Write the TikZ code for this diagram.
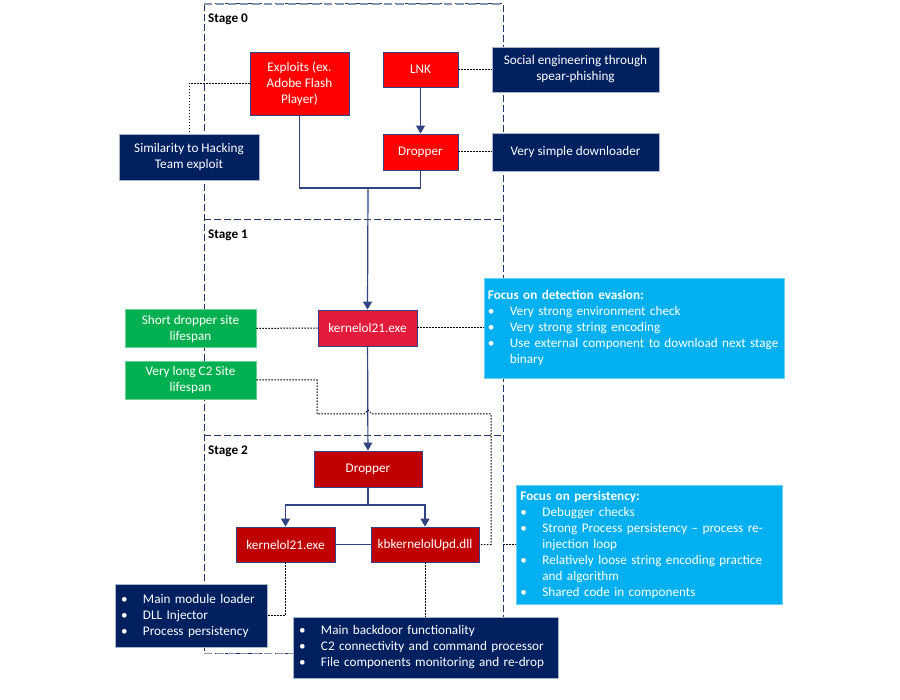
\documentclass[tikz,border=0pt]{standalone}
\usepackage{fontspec}
\setmainfont{Carlito}
\usetikzlibrary{arrows.meta,calc,positioning}
\definecolor{alarmRed}{RGB}{255,0,0}
\definecolor{crimsonRed}{RGB}{226,28,58}
\definecolor{darkRed}{RGB}{192,0,0}
\definecolor{deepNavy}{RGB}{0,32,96}
\definecolor{skyBlue}{RGB}{0,176,240}
\definecolor{leafGreen}{RGB}{0,176,80}
\definecolor{lineBlue}{RGB}{47,68,128}
\definecolor{frameBlue}{RGB}{31,56,100}
\definecolor{frameGray}{RGB}{132,151,176}
\newcommand{\bul}{\makebox[22pt][l]{\textbullet}}
\newcommand{\cont}{\hspace*{22pt}}

\begin{document}
\begin{tikzpicture}[
  x=1pt, y=-1pt,
  every node/.style={font=\fontsize{13.2}{16}\selectfont},
  block/.style={draw=lineBlue, line width=0.8pt, text=white, align=center, inner sep=2pt},
  exploit/.style={block, fill=alarmRed},
  loader/.style={block, fill=crimsonRed},
  implant/.style={block, fill=darkRed},
  remark/.style={block, fill=deepNavy, draw=frameGray!70},
  focus/.style={block, fill=skyBlue, draw=skyBlue!60!white, align=left, inner xsep=4pt, anchor=west},
  site/.style={block, fill=leafGreen, draw=leafGreen!60!white},
  frame/.style={inner sep=0pt, anchor=north west, minimum width=299pt},
  frameline/.style={draw=frameBlue, line width=1pt, dash pattern=on 7pt off 3pt},
  frameedge/.style={draw=frameGray, line width=1.5pt, dash pattern=on 8pt off 4pt},
  stagelabel/.style={font=\fontsize{13.2}{16}\selectfont\bfseries, inner sep=0pt, anchor=base west},
  flow/.style={-{Triangle[length=8pt,width=9pt]}, draw=lineBlue, line width=1.2pt},
  link/.style={draw=lineBlue, line width=1.2pt},
  note/.style={draw=black, line width=1pt, dash pattern=on 1.5pt off 1.5pt}
]
  \fill[white] (0,0) rectangle (900,700);
  \useasboundingbox (0,0) rectangle (900,700);

  % stage frames
  \node[frame, minimum height=216pt] (stage0) at (204,4) {};
  \node[frame, minimum height=216pt] (stage1) at (204,220) {};
  \node[frame, minimum height=217pt] (stage2) at (204,436) {};
  \draw[frameline] (stage0.north west) rectangle (stage2.south east);
  \draw[frameline] (stage1.north west) -- (stage1.north east);
  \draw[frameline] (stage2.north west) -- (stage2.north east);
  \draw[frameedge] (stage0.north west) -- (stage0.north east);
  \draw[frameedge] (stage2.south west) -- (stage2.south east);
  \node[stagelabel] at ([xshift=4pt,yshift=-19pt]stage0.north west) {Stage 0};
  \node[stagelabel] at ([xshift=4pt,yshift=-19pt]stage1.north west) {Stage 1};
  \node[stagelabel] at ([xshift=4pt,yshift=-19pt]stage2.north west) {Stage 2};

  % stage 0
  \node[exploit, minimum width=99pt, minimum height=63pt] (exploits) at (299.5,83.5) {Exploits (ex.\\Adobe Flash\\Player)};
  \node[exploit, minimum width=75pt, minimum height=35pt] (lnk) at (420.5,69.5) {LNK};
  \node[exploit, minimum width=75pt, minimum height=36pt] (dropA) at (420.5,152) {Dropper};
  \node[remark, minimum width=167pt, minimum height=45pt] (social) at (575.5,69.5) {Social engineering through\\spear-phishing};
  \node[remark, minimum width=167pt, minimum height=38pt] (downloader) at (575.5,152) {Very simple downloader};
  \node[remark, minimum width=140pt, minimum height=46pt] (similarity) at (189,157) {Similarity to Hacking\\Team exploit};

  % stage 1
  \node[loader, minimum width=99pt, minimum height=36pt] (kernelA) at (367.5,328) {kernelol21.exe};
  \node[site, minimum width=131pt, minimum height=38pt] (shortsite) at (190.5,328.5) {Short dropper site\\lifespan};
  \node[site, minimum width=131pt, minimum height=38pt] (longc2) at (190.5,380) {Very long C2 Site\\lifespan};
  \node[focus, text width=292pt, minimum height=100pt] (detect) at (483.5,328) {%
    \textbf{Focus on detection evasion:}\\
    \bul Very strong environment check\\
    \bul Very strong string encoding\\
    \bul Use external component to download next stage\\
    \cont binary};

  % stage 2
  \node[implant, minimum width=108pt, minimum height=36pt] (dropB) at (368,469) {Dropper};
  \node[implant, minimum width=99pt, minimum height=35pt] (kernelB) at (285.5,544.5) {kernelol21.exe};
  \node[implant, minimum width=108pt, minimum height=35pt] (kbdll) at (425,544.5) {kbkernelolUpd.dll};
  \node[focus, text width=258pt, minimum height=119pt] (persist) at (516,544.5) {%
    \textbf{Focus on persistency:}\\
    \bul Debugger checks\\
    \bul Strong Process persistency -- process re-\\
    \cont injection loop\\
    \bul Relatively loose string encoding practice\\
    \cont and algorithm\\
    \bul Shared code in components};
  \node[remark, align=left, inner xsep=6pt, text width=140pt, minimum height=63pt] (modloader) at (191,615.5) {%
    \bul Main module loader\\
    \bul DLL Injector\\
    \bul Process persistency};
  \node[remark, align=left, inner xsep=6pt, text width=253pt, minimum height=61pt] (backdoor) at (425.5,647.5) {%
    \bul Main backdoor functionality\\
    \bul C2 connectivity and command processor\\
    \bul File components monitoring and re-drop};

  % main flow
  \coordinate (merge) at (368,188);
  \coordinate (split) at (368,505);
  \draw[flow] (lnk) -- (dropA);
  \draw[link] (exploits.south) |- (merge) -| (dropA.south);
  \draw[flow] (merge) -- (kernelA.north);
  \draw[flow] (kernelA) -- (dropB);
  \draw[link] (dropB) -- (split);
  \draw[flow] (split) -| (kernelB.north);
  \draw[flow] (split) -| (kbdll.north);
  \draw[link] (kernelB) -- (kbdll);

  % dotted notes
  \draw[note] (exploits.west) -| (similarity.north);
  \draw[note] (lnk) -- (social);
  \draw[note] (dropA) -- (downloader);
  \draw[note] (shortsite) -- (kernelA);
  \draw[note] (kernelA) -- (detect);
  \draw[note] (longc2.east) -- (317,380) -- (317,414) -- (364,414) -- (368,410) -- (372,414) -- (491,414) |- (kbdll.east);
  \draw[note] (stage2.east |- persist.west) -- (persist.west);
  \draw[note] (kernelB.south) |- (modloader.east);
  \draw[note] (kbdll.south) -- (kbdll.south |- backdoor.north);
\end{tikzpicture}
\end{document}
